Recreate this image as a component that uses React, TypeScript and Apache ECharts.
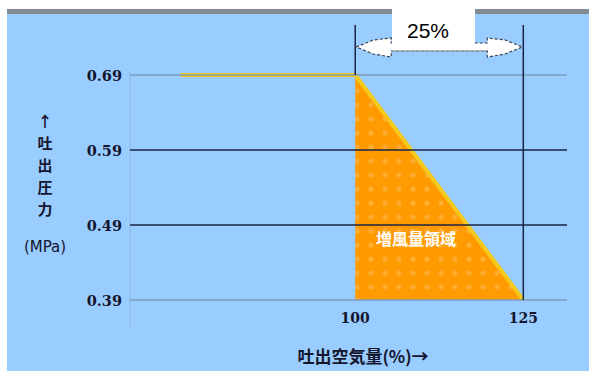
import React, { useEffect, useRef } from 'react';
import * as echarts from 'echarts';

const yTicks = [0.39, 0.49, 0.59, 0.69];
const xTicks = [100, 125];
const pressureLine = [[74, 0.69], [100, 0.69], [125, 0.39]];
const boostArea = [[100, 0.69], [125, 0.39]];
const gridLineColors = ['#7d9cbd', '#1a2444', '#1a2444', '#7d9cbd'];
const spanLabel = '25%';
const regionLabel = '増風量領域';
const yTitle = '↑\n吐\n出\n圧\n力';
const yUnit = '(MPa)';
const xTitle = '吐出空気量(%)→';

const TEXT = '#15152e';

function makePattern() {
  const c = document.createElement('canvas');
  c.width = 14;
  c.height = 14;
  const ctx = c.getContext('2d')!;
  ctx.fillStyle = '#ff9a00';
  ctx.fillRect(0, 0, 14, 14);
  ctx.fillStyle = '#ffac32';
  ctx.beginPath();
  ctx.arc(7, 7, 2.6, 0, Math.PI * 2);
  ctx.fill();
  return c;
}

export default function App() {
  const ref = useRef<HTMLDivElement>(null);
  useEffect(() => {
    const chart = echarts.init(ref.current!, null, { renderer: 'svg' });
    const pattern = makePattern();
    chart.setOption({
      animation: false,
      backgroundColor: '#ffffff',
      grid: { left: 130, right: 22, top: 75, bottom: 71 },
      xAxis: {
        type: 'value',
        min: 66.5,
        max: 131.5,
        axisLine: { show: false },
        axisTick: { show: false },
        splitLine: { show: false },
        axisLabel: {
          customValues: xTicks,
          margin: 11,
          fontFamily: 'DejaVu Serif',
          fontWeight: 'bold',
          fontSize: 14,
          color: TEXT,
        },
      },
      yAxis: {
        type: 'value',
        min: 0.39,
        max: 0.69,
        axisLine: { show: false },
        axisTick: { show: false },
        splitLine: { show: false },
        axisLabel: {
          customValues: yTicks,
          margin: 8,
          formatter: (v: number) => v.toFixed(2),
          fontFamily: 'DejaVu Serif',
          fontWeight: 'bold',
          fontSize: 14.5,
          color: TEXT,
        },
      },
      series: [
        {
          type: 'line',
          data: boostArea,
          symbol: 'none',
          lineStyle: { width: 0 },
          areaStyle: {
            color: { image: pattern, repeat: 'repeat' },
            opacity: 1,
            origin: 'start',
          },
          z: 2,
        },
        {
          type: 'line',
          data: [],
          z: 3,
          markLine: {
            silent: true,
            symbol: 'none',
            label: { show: false },
            data: yTicks.map((v, i) => ({
              yAxis: v,
              lineStyle: { color: gridLineColors[i], width: 1.5, type: 'solid' },
            })),
          },
        },
        {
          type: 'line',
          data: pressureLine,
          symbol: 'none',
          lineStyle: { color: '#f3c91c', width: 4 },
          z: 4,
        },
      ],
    });

    const px = (x: number) => chart.convertToPixel({ xAxisIndex: 0 }, x) as number;
    const py = (y: number) => chart.convertToPixel({ yAxisIndex: 0 }, y) as number;
    const x1 = px(100);
    const x2 = px(125);
    const yTop = py(0.69);
    const yBot = py(0.39);
    const ay = 47;

    chart.setOption({
      graphic: [
        { type: 'rect', silent: true, z: -10, shape: { x: 7, y: 9, width: 582, height: 362 }, style: { fill: '#99ccff' } },
        { type: 'rect', silent: true, z: -9, shape: { x: 7, y: 9, width: 582, height: 5 }, style: { fill: '#838b96' } },
        { type: 'line', silent: true, z: -8, shape: { x1: 130, y1: 70, x2: 130, y2: 327 }, style: { stroke: '#8dbae6', lineWidth: 1 } },
        { type: 'line', silent: true, z: 5, shape: { x1: x1, y1: 25, x2: x1, y2: yTop }, style: { stroke: '#1a2444', lineWidth: 1.5 } },
        { type: 'line', silent: true, z: 5, shape: { x1: x2, y1: 25, x2: x2, y2: yBot }, style: { stroke: '#1a2444', lineWidth: 1.5 } },
        {
          type: 'polygon',
          silent: true,
          z: 6,
          shape: {
            points: [
              [x1 + 1, ay], [x1 + 18, ay - 7], [x1 + 36, ay - 9], [x1 + 36, ay - 4],
              [x2 - 36, ay - 4], [x2 - 36, ay - 9], [x2 - 18, ay - 7], [x2 - 1, ay],
              [x2 - 18, ay + 7], [x2 - 36, ay + 10], [x2 - 36, ay + 4],
              [x1 + 36, ay + 4], [x1 + 36, ay + 10], [x1 + 18, ay + 7],
            ],
          },
          style: { fill: '#ffffff', stroke: '#3a4050', lineWidth: 1.2, lineDash: [3, 2] },
        },
        { type: 'line', silent: true, z: 7, shape: { x1: x1 + 37, y1: ay + 4, x2: x2 - 37, y2: ay + 4 }, style: { stroke: '#9aa3ad', lineWidth: 1.5 } },
        { type: 'rect', silent: true, z: 8, shape: { x: 392, y: 0, width: 83, height: 44 }, style: { fill: '#ffffff' } },
        {
          type: 'text', silent: true, z: 9, x: 428, y: 30,
          style: { text: spanLabel, fill: '#000000', fontFamily: 'Liberation Sans', fontSize: 21, align: 'center', verticalAlign: 'middle' },
        },
        {
          type: 'text', silent: true, z: 9, x: 416, y: 238,
          style: { text: regionLabel, fill: '#ffffff', fontFamily: 'Noto Sans CJK JP', fontWeight: 'bold', fontSize: 16, align: 'center', verticalAlign: 'middle' },
        },
        {
          type: 'text', silent: true, z: 9, x: 45, y: 164,
          style: { text: yTitle, fill: TEXT, fontFamily: 'Noto Sans CJK JP', fontWeight: 'bold', fontSize: 15, lineHeight: 22, align: 'center', verticalAlign: 'middle' },
        },
        {
          type: 'text', silent: true, z: 9, x: 45, y: 247,
          style: { text: yUnit, fill: TEXT, fontFamily: 'DejaVu Sans', fontSize: 15, align: 'center', verticalAlign: 'middle' },
        },
        {
          type: 'text', silent: true, z: 9, x: 363, y: 355,
          style: { text: xTitle, fill: TEXT, fontFamily: 'Noto Sans CJK JP', fontWeight: 'bold', fontSize: 17, align: 'center', verticalAlign: 'middle' },
        },
      ],
    });
    return () => chart.dispose();
  }, []);
  return <div ref={ref} style={{ position: 'absolute', left: 0, top: 0, width: 589, height: 371 }} />;
}
